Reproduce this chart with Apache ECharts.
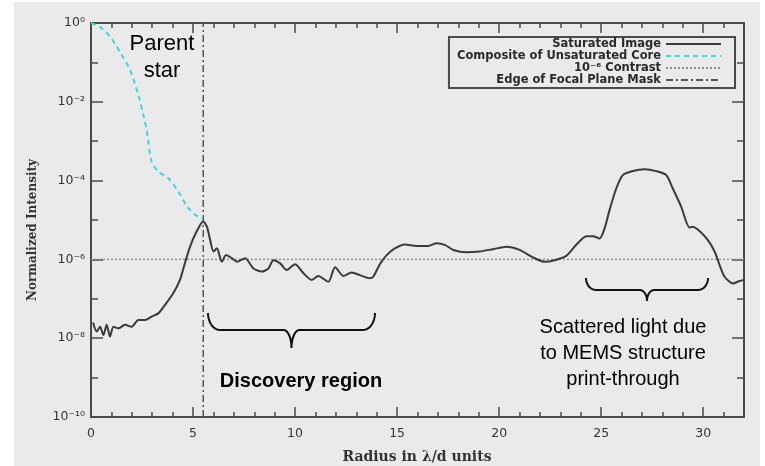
<!DOCTYPE html>
<html><head><meta charset="utf-8">
<script src="https://cdn.jsdelivr.net/npm/echarts@6/dist/echarts.min.js"></script>
<style>html,body{margin:0;padding:0;background:#fff}#c{width:765px;height:466px}</style>
</head><body><div id="c"></div>
<script>
// ---- data (log10 of normalized intensity) ----
const satRadius = [0.1,0.28,0.44,0.61,0.77,0.93,1.1,1.34,1.67,1.99,2.32,2.65,2.97,3.3,3.62,4.03,4.36,4.6,4.85,5.17,5.5,5.68,5.84,6.0,6.17,6.41,6.62,6.9,7.15,7.55,7.96,8.37,8.69,8.94,9.27,9.59,10.0,10.41,10.82,11.14,11.63,11.96,12.37,12.77,13.18,13.67,13.83,14.16,14.49,14.89,15.38,15.95,16.52,16.93,17.34,17.75,18.4,19.05,19.7,20.36,21.0,21.66,22.23,22.72,23.29,23.78,24.27,24.6,24.92,25.17,25.41,25.74,26.06,26.47,27.12,27.7,28.19,28.51,28.92,29.33,29.49,29.82,30.23,30.56,30.8,31.05,31.45,31.78,32.0];
const satLog = [-7.6,-7.83,-7.71,-7.92,-7.66,-7.96,-7.71,-7.75,-7.66,-7.71,-7.54,-7.54,-7.45,-7.37,-7.16,-6.86,-6.52,-6.1,-5.68,-5.3,-5.04,-5.17,-5.51,-5.8,-5.72,-6.06,-5.89,-5.97,-6.06,-5.97,-6.23,-6.31,-6.23,-6.02,-6.1,-6.27,-6.12,-6.35,-6.52,-6.42,-6.57,-6.2,-6.42,-6.33,-6.4,-6.48,-6.44,-6.12,-5.89,-5.72,-5.62,-5.66,-5.66,-5.59,-5.63,-5.76,-5.82,-5.8,-5.74,-5.68,-5.76,-5.95,-6.06,-6.02,-5.91,-5.63,-5.41,-5.41,-5.47,-5.21,-4.75,-4.2,-3.86,-3.77,-3.71,-3.76,-3.86,-4.2,-4.66,-5.19,-5.17,-5.28,-5.51,-5.8,-6.14,-6.44,-6.61,-6.55,-6.52];
const coreRadius = [0,0.52,1.0,1.5,1.91,2.32,2.56,2.73,2.81,2.97,3.3,3.79,4.28,4.77,5.2,5.5];
const coreLog = [0,-0.13,-0.39,-0.81,-1.19,-1.83,-2.33,-2.72,-3.01,-3.52,-3.77,-3.94,-4.28,-4.7,-4.9,-4.96];
const contrastLog = -6;
const maskEdgeRadius = 5.5;
const xTickLabels = [0,5,10,15,20,25,30];
const yTickExponents = [0,-2,-4,-6,-8,-10];
const seriesNames = ['Saturated Image','Composite of Unsaturated Core','10\u207B\u2076 Contrast','Edge of Focal Plane Mask'];

const sup = {'0':'\u2070','1':'\u00B9','2':'\u00B2','3':'\u00B3','4':'\u2074','5':'\u2075','6':'\u2076','7':'\u2077','8':'\u2078','9':'\u2079','-':'\u207B'};
const toSup = s => String(s).split('').map(c => sup[c] || c).join('');

const zip = (a, b) => a.map((v, i) => [v, b[i]]);
const GRID = {left: 91, right: 21, top: 23, bottom: 49};
const AX = '#4a4a4a';
const FONT = 'DejaVu Sans';

function xAxisDef(gridIndex, pos, interval, len, labels, line) {
  return {
    type: 'value', gridIndex, position: pos, min: 0, max: 32, interval,
    axisLine: {show: line, onZero: false, lineStyle: {color: AX, width: 2}},
    axisTick: {show: true, inside: true, length: len, lineStyle: {color: AX, width: 1.5}},
    axisLabel: {show: labels, margin: 10, color: '#333', fontFamily: FONT, fontSize: 12.5,
      formatter: v => (xTickLabels.indexOf(v) >= 0 ? String(v) : '')},
    splitLine: {show: false}
  };
}
function yAxisDef(gridIndex, pos, show, labels) {
  return {
    type: 'value', gridIndex, position: pos, min: -10, max: 0, interval: 2, show,
    axisLine: {show: true, onZero: false, lineStyle: {color: AX, width: 2}},
    axisTick: {show: true, inside: true, length: 12, lineStyle: {color: AX, width: 1.5}},
    minorTick: {show: true, splitNumber: 2, length: 7, lineStyle: {color: AX, width: 1.5}},
    axisLabel: {show: labels, margin: 6, color: '#333', fontFamily: FONT, fontSize: 12.5,
      formatter: v => (yTickExponents.indexOf(v) >= 0 ? '10' + toSup(v) : '')},
    splitLine: {show: false}
  };
}

function bracePoints(x1, x2, yTop, yMid, yTip, rxEnd, rxMid) {
  const pts = [];
  const xm = (x1 + x2) / 2;
  const ryE = yMid - yTop, ryM = yTip - yMid;
  const arc = (cx, cy, rx, ry, a0, a1) => {
    for (let i = 0; i <= 10; i++) {
      const a = a0 + (a1 - a0) * i / 10;
      pts.push([cx + rx * Math.cos(a), cy + ry * Math.sin(a)]);
    }
  };
  arc(x1 + rxEnd, yTop, rxEnd, ryE, Math.PI, Math.PI / 2);
  arc(xm - rxMid, yMid + ryM, rxMid, ryM, -Math.PI / 2, 0);
  arc(xm + rxMid, yMid + ryM, rxMid, ryM, Math.PI, 1.5 * Math.PI);
  arc(x2 - rxEnd, yTop, rxEnd, ryE, Math.PI / 2, 0);
  return pts;
}

const annoFont = 'Liberation Sans';
const chart = echarts.init(document.getElementById('c'), null, {renderer: 'canvas'});
chart.setOption({
  backgroundColor: '#ffffff',
  animation: false,
  grid: [GRID, GRID, GRID, GRID].map(g => Object.assign({containLabel: false}, g)),
  xAxis: [
    xAxisDef(0, 'bottom', 5, 10, true, true),
    xAxisDef(1, 'bottom', 1, 5, false, false),
    xAxisDef(2, 'top', 5, 10, false, true),
    xAxisDef(3, 'top', 1, 5, false, false)
  ],
  yAxis: [
    yAxisDef(0, 'left', true, true),
    yAxisDef(1, 'right', true, false),
    yAxisDef(2, 'left', false, false),
    yAxisDef(3, 'left', false, false)
  ],
  legend: {
    orient: 'vertical', right: 30, top: 37, align: 'right',
    itemWidth: 55, itemHeight: 11.5, itemGap: 0,
    padding: [1, 13, 2, 8],
    borderColor: AX, borderWidth: 2, borderRadius: 0,
    itemStyle: {opacity: 0},
    textStyle: {fontFamily: FONT, fontWeight: 'bold', fontSize: 11.5, lineHeight: 11.5, color: '#2a2a2a'},
    data: seriesNames
  },
  series: [
    {name: seriesNames[0], type: 'line', xAxisIndex: 0, yAxisIndex: 0, symbol: 'none', smooth: 0.25,
      lineStyle: {color: '#3a3a3a', width: 2}, itemStyle: {color: '#3a3a3a'}, data: zip(satRadius, satLog), z: 5},
    {name: seriesNames[1], type: 'line', xAxisIndex: 0, yAxisIndex: 0, symbol: 'none', smooth: 0.3,
      lineStyle: {color: '#3fd6dc', width: 2, type: [5, 4]}, itemStyle: {color: '#3fd6dc'}, data: zip(coreRadius, coreLog), z: 4},
    {name: seriesNames[2], type: 'line', xAxisIndex: 0, yAxisIndex: 0, symbol: 'none',
      lineStyle: {color: '#8f8f8f', width: 1.5, type: [2, 2]}, itemStyle: {color: '#8f8f8f'},
      data: [[0, contrastLog], [32, contrastLog]], z: 3},
    {name: seriesNames[3], type: 'line', xAxisIndex: 0, yAxisIndex: 0, symbol: 'none',
      lineStyle: {color: '#555555', width: 1.5, type: [7, 3, 2, 3]}, itemStyle: {color: '#555555'},
      data: [[maskEdgeRadius, -10], [maskEdgeRadius, 0]], z: 3}
  ],
  graphic: [
    {type: 'rect', z: -100, silent: true, shape: {x: 14, y: 2, width: 746, height: 464}, style: {fill: '#eaeaea'}},
    {type: 'text', x: 33, y: 230, rotation: Math.PI / 2, style: {text: 'Normalized Intensity', font: 'bold 12px "DejaVu Serif"', fill: '#333', align: 'center', verticalAlign: 'middle'}},
    {type: 'text', x: 417, y: 457, style: {text: 'Radius in \u03BB/d units', font: 'bold 14px "DejaVu Serif"', fill: '#333', align: 'center', verticalAlign: 'middle'}},
    {type: 'text', x: 162, y: 44, style: {text: 'Parent', font: '22px "' + annoFont + '"', fill: '#000', align: 'center', verticalAlign: 'middle'}},
    {type: 'text', x: 162, y: 71, style: {text: 'star', font: '22px "' + annoFont + '"', fill: '#000', align: 'center', verticalAlign: 'middle'}},
    {type: 'text', x: 301, y: 381, style: {text: 'Discovery region', font: 'bold 20px "' + annoFont + '"', fill: '#000', align: 'center', verticalAlign: 'middle'}},
    {type: 'text', x: 623, y: 327, style: {text: 'Scattered light due', font: '20px "' + annoFont + '"', fill: '#000', align: 'center', verticalAlign: 'middle'}},
    {type: 'text', x: 623, y: 353, style: {text: 'to MEMS structure', font: '20px "' + annoFont + '"', fill: '#000', align: 'center', verticalAlign: 'middle'}},
    {type: 'text', x: 623, y: 379, style: {text: 'print-through', font: '20px "' + annoFont + '"', fill: '#000', align: 'center', verticalAlign: 'middle'}},
    {type: 'polyline', shape: {points: bracePoints(208, 375, 313, 330, 348, 12, 8)}, style: {stroke: '#111', lineWidth: 2, fill: null}},
    {type: 'polyline', shape: {points: bracePoints(586, 708, 278, 290, 301, 10, 7)}, style: {stroke: '#111', lineWidth: 2, fill: null}}
  ]
});
</script></body></html>
